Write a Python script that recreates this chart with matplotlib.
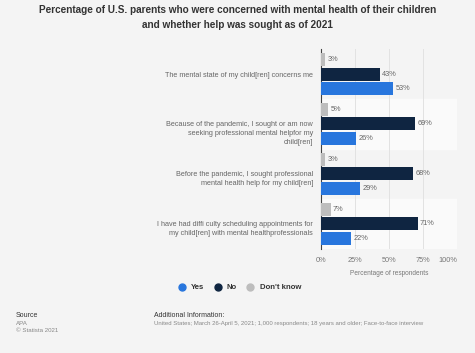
import numpy as np
import matplotlib.pyplot as plt
from matplotlib.lines import Line2D
from matplotlib.transforms import blended_transform_factory

categories = [
    'The mental state of my child[ren] concerns me',
    'Because of the pandemic, I sought or am now\nseeking professional mental helpfor my\nchild[ren]',
    'Before the pandemic, I sought professional\nmental health help for my child[ren]',
    'I have had diffi culty scheduling appointments for\nmy child[ren] with mental healthprofessionals',
]
yes = [53, 26, 29, 22]
no = [43, 69, 68, 71]
dont_know = [3, 5, 3, 7]
ticks = [0, 25, 50, 75, 100]

c_yes = '#2876dd'
c_no = '#0f2541'
c_dk = '#bdbdbd'
bg = '#f4f4f4'

plt.rcParams['font.family'] = ['Liberation Sans', 'DejaVu Sans']

fig = plt.figure(figsize=(4.75, 3.53), dpi=100, facecolor=bg)
ax = fig.add_axes([0.676, 0.295, 0.286, 0.566])
ax.set_facecolor(bg)

n = len(categories)
y = np.arange(n)
h = 0.26
step = 0.285

for i in range(n):
    if i % 2 == 1:
        ax.axhspan(i - 0.5, i + 0.5, color='#fafafa', zorder=0)

series = [(dont_know, c_dk, -step), (no, c_no, 0), (yes, c_yes, step)]
for vals, col, off in series:
    ax.barh(y + off, vals, height=h, color=col, zorder=3)
    for yi, v in zip(y, vals):
        ax.text(v + 1.8, yi + off, f'{v}%', va='center', ha='left',
                fontsize=5.3, color='#666666', zorder=4)

ax.set_ylim(n - 0.5, -0.5)
ax.set_xlim(0, 100)
ax.set_xticks(ticks)
ax.set_xticklabels([f'{t}%' for t in ticks], fontsize=5.3, color='#777777')
ax.get_xticklabels()[-1].set_horizontalalignment('right')
ax.set_yticks([])

# labels: first line sits on the group centre
trans = blended_transform_factory(ax.transAxes, ax.transData)
for i, lab in enumerate(categories):
    ax.text(-0.058, i - 0.05, lab, transform=trans, ha='right', va='top',
            fontsize=5.2, color='#666666', linespacing=1.35)

ax.tick_params(axis='both', length=0)
ax.tick_params(axis='x', pad=6)
ax.grid(axis='x', color='#e2e2e2', linewidth=0.7, zorder=1)
for s in ['top', 'right', 'bottom']:
    ax.spines[s].set_visible(False)
ax.spines['left'].set_color('#444444')
ax.spines['left'].set_linewidth(0.8)
ax.set_xlabel('Percentage of respondents', fontsize=4.7, color='#777777', labelpad=4)

fig.text(0.5, 0.985, 'Percentage of U.S. parents who were concerned with mental health of their children\nand whether help was sought as of 2021',
         ha='center', va='top', fontsize=7.2, fontweight='bold', color='#333333', linespacing=1.55)

handles = [Line2D([], [], marker='o', linestyle='', markersize=5, color=c)
           for c in [c_yes, c_no, c_dk]]
fig.legend(handles, ['Yes', 'No', "Don't know"], loc='center', bbox_to_anchor=(0.5, 0.185),
           ncol=3, frameon=False, handletextpad=0.2, columnspacing=0.7,
           labelcolor='#333333', prop={'weight': 'bold', 'size': 5.6})

fig.text(0.033, 0.105, 'Source', fontsize=5, color='#333333', va='center')
fig.text(0.033, 0.084, 'APA', fontsize=4.4, color='#888888', va='center')
fig.text(0.033, 0.063, '\u00a9 Statista 2021', fontsize=4.4, color='#888888', va='center')
fig.text(0.324, 0.105, 'Additional Information:', fontsize=5, color='#333333', va='center')
fig.text(0.324, 0.084, 'United States; March 26-April 5, 2021; 1,000 respondents; 18 years and older; Face-to-face interview',
         fontsize=4.3, color='#888888', va='center')

fig.savefig('out.png', dpi=100, facecolor=bg)
